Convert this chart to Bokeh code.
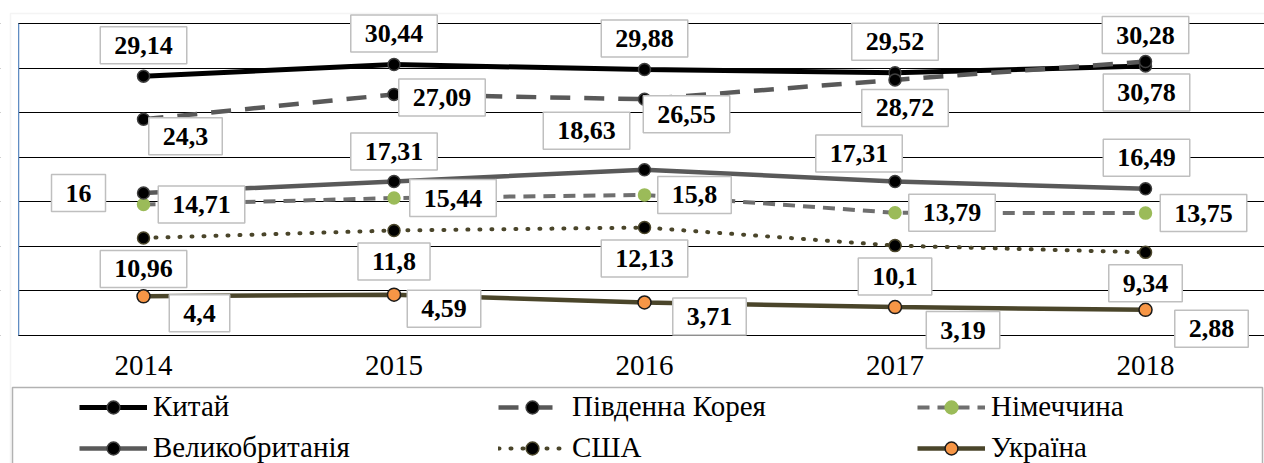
from bokeh.plotting import figure
from bokeh.models import Range1d, FixedTicker, Label, Legend, LegendItem, BoxAnnotation
from bokeh.embed import file_html
from bokeh.resources import INLINE

# ---------------- data ----------------
years = ["2014", "2015", "2016", "2017", "2018"]
series_names = ["Китай", "Південна Корея", "Німеччина", "Великобританія", "США", "Україна"]
china = [29.14, 30.44, 29.88, 29.52, 30.28]
south_korea = [24.3, 27.09, 26.55, 28.72, 30.78]
germany = [14.71, 15.44, 15.8, 13.79, 13.75]
uk = [16, 17.31, 18.63, 17.31, 16.49]
usa = [10.96, 11.8, 12.13, 10.1, 9.34]
ukraine = [4.4, 4.59, 3.71, 3.19, 2.88]
series_values = [china, south_korea, germany, uk, usa, ukraine]
y_ticks = [0, 5, 10, 15, 20, 25, 30, 35]

# ---------------- styles ----------------
styles = [
    dict(color="#000000", dash="solid", width=5, mfill="#000000", mline="#3f3f3f", msize=12, cap="butt"),
    dict(color="#595959", dash="20 14", width=4.5, mfill="#000000", mline="#3f3f3f", msize=12, cap="butt"),
    dict(color="#6f6f6f", dash="12 8", width=4, mfill="#9bbb59", mline="#9bbb59", msize=12, cap="butt"),
    dict(color="#595959", dash="solid", width=4.5, mfill="#000000", mline="#3f3f3f", msize=12, cap="butt"),
    dict(color="#4a452a", dash="1 11", width=4, mfill="#000000", mline="#4a452a", msize=12, cap="round"),
    dict(color="#4a452a", dash="solid", width=4.5, mfill="#f79646", mline="#1a1a1a", msize=13, cap="butt"),
]
# label offsets in screen pixels (dx right, dy down)
label_offsets = [
    [(0, -31)] * 5,
    [(42, 17), (48, 3), (42, 15), (10, 28), (1, 31)],
    [(58, 0), (59, 0), (50, 0), (57, 0), (58, 0)],
    [(-65, 0), (0, -30), (-58, -39), (-36, -28), (1, -31)],
    [(0, 31)] * 5,
    [(56, 17), (50, 14), (65, 14), (68, 23), (66, 19)],
]

FONT = "Liberation Serif, DejaVu Serif"
xs = list(range(len(years)))

# frame covers the whole canvas; ranges chosen so the plot area sits at x 18..1264, y 23.5..335
p = figure(width=1264, height=463, output_backend="svg", toolbar_location=None,
           x_range=Range1d(-0.5709, 4.475), y_range=Range1d(-14.382, 37.64))
p.min_border = 0
p.outline_line_color = None
p.background_fill_color = "white"
p.border_fill_color = "white"

p.xgrid.visible = False
p.ygrid.ticker = FixedTicker(ticks=y_ticks)
p.ygrid.grid_line_color = "#000000"
p.ygrid.grid_line_width = 1

p.yaxis.fixed_location = -0.499
p.yaxis.bounds = (0, 35)
p.yaxis.ticker = FixedTicker(ticks=[])
p.yaxis.major_tick_out = 0
p.yaxis.major_tick_in = 0
p.yaxis.minor_tick_line_color = None
p.yaxis.axis_line_color = "#4f81bd"
p.yaxis.axis_line_width = 1.5

p.xaxis.fixed_location = 0
p.xaxis.bounds = (-0.499, 4.475)
p.xaxis.ticker = FixedTicker(ticks=xs)
p.xaxis.major_label_overrides = {i: y for i, y in zip(xs, years)}
p.xaxis.major_tick_out = 0
p.xaxis.major_tick_in = 0
p.xaxis.minor_tick_line_color = None
p.xaxis.axis_line_color = "#000000"
p.xaxis.major_label_standoff = 21
p.xaxis.major_label_text_font = FONT
p.xaxis.major_label_text_font_size = "29px"
p.xaxis.major_label_text_color = "#000000"

items = []
for name, vals, st in zip(series_names, series_values, styles):
    lr = p.line(xs, vals, line_color=st["color"], line_width=st["width"],
                line_dash=st["dash"], line_cap=st["cap"])
    sr = p.scatter(xs, vals, size=st["msize"], fill_color=st["mfill"],
                   line_color=st["mline"], line_width=1.5)
    items.append(LegendItem(label=name, renderers=[lr, sr]))

# white margin to the left of the plot area (hides grid stubs)
p.add_layout(BoxAnnotation(left=0, right=17.6, top=0, bottom=386,
                           left_units="canvas", right_units="canvas",
                           top_units="canvas", bottom_units="canvas",
                           fill_color="white", fill_alpha=1, line_alpha=0, level="annotation"))

for vals, offs in zip(series_values, label_offsets):
    for x, v, (dx, dy) in zip(xs, vals, offs):
        txt = f"{v:g}".replace(".", ",")
        p.add_layout(Label(x=x, y=v, text=txt, x_offset=dx, y_offset=-dy,
                           text_align="center", text_baseline="middle",
                           text_font=FONT, text_font_style="bold", text_font_size="26px",
                           text_color="#000000",
                           background_fill_color="white", background_fill_alpha=1.0,
                           border_line_color="#bfbfbf", border_line_width=1.5,
                           padding=dict(left=14, right=14, top=10, bottom=10)))

# outer chart-area border and legend box
p.add_layout(BoxAnnotation(left=10, right=1400, top=13, bottom=600,
                           left_units="canvas", right_units="canvas",
                           top_units="canvas", bottom_units="canvas",
                           fill_alpha=0, line_color="#d9d9d9", line_width=1.5))
p.add_layout(BoxAnnotation(left=12, right=1262, top=387, bottom=600,
                           left_units="canvas", right_units="canvas",
                           top_units="canvas", bottom_units="canvas",
                           fill_alpha=0, line_color="#000000", line_width=1.5))

legend = Legend(items=items, orientation="horizontal", ncols=3,
                location=(79, -1), padding=0, margin=0, spacing=8,
                border_line_alpha=0, background_fill_alpha=0,
                glyph_width=68, glyph_height=32, label_height=32, label_width=337,
                label_standoff=6, label_text_font=FONT, label_text_font_size="29px",
                label_text_color="#000000")
p.add_layout(legend, "center")

open("out.html", "w").write(file_html(p, INLINE))
